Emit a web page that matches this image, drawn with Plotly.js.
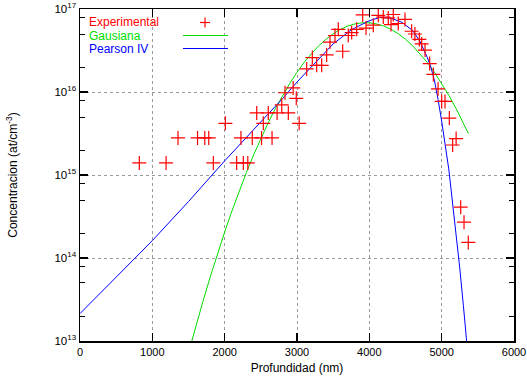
<!DOCTYPE html>
<html><head><meta charset="utf-8">
<script src="https://cdn.plot.ly/plotly-3.0.1.min.js"></script>
<style>html,body{margin:0;padding:0;background:#fff}#plot{width:527px;height:379px}</style>
</head><body><div id="plot"></div>
<script>
// Experimental points
const depthExp = [820,1190,1355,1625,1725,1780,1843,2010,2166,2225,2258,2320,2382,2443,2510,2534,2603,2655,2725,2789,2834,2880,2947,2990,3030,3134,3212,3272,3341,3410,3456,3525,3571,3632,3709,3756,3825,3908,3954,4055,4124,4193,4262,4300,4331,4400,4493,4585,4630,4691,4724,4770,4834,4885,4950,5000,5046,5106,5152,5200,5263,5309,5368];
const concExp = [1.4e15,1.4e15,2.8e15,2.8e15,2.8e15,2.8e15,1.4e15,4.2e15,1.4e15,2.8e15,1.4e15,1.4e15,2.8e15,5.6e15,2.8e15,4.2e15,5.6e15,2.8e15,5.6e15,7.0e15,9.8e15,5.6e15,1.12e16,8.4e15,4.2e15,1.9e16,2.6e16,2.1e16,2.1e16,2.8e16,4.0e16,4.8e16,5.7e16,3.1e16,4.8e16,5.2e16,5.7e16,8.5e16,5.9e16,6.4e16,8.4e16,8.0e16,7.8e16,6.5e16,8.6e16,6.7e16,7.5e16,5.4e16,5.0e16,4.3e16,3.8e16,3.2e16,2.2e16,1.63e16,1.09e16,7.7e15,7.7e15,4.85e15,2.3e15,2.75e15,4.1e14,2.7e14,1.54e14];
// Gaussian fit
const depthGauss = [1540,1600,1700,1800,1900,2000,2100,2200,2300,2400,2500,2600,2700,2800,2900,3000,3100,3200,3300,3400,3500,3600,3700,3800,3900,4000,4100,4200,4300,4400,4500,4600,4700,4800,4900,5000,5100,5200,5300,5370];
const concGauss = [9.6e12,1.49e13,3.01e13,5.89e13,1.12e14,2.06e14,3.68e14,6.38e14,1.07e15,1.75e15,2.77e15,4.24e15,6.31e15,9.10e15,1.27e16,1.73e16,2.28e16,2.90e16,3.60e16,4.32e16,5.04e16,5.69e16,6.24e16,6.62e16,6.82e16,6.82e16,6.62e16,6.24e16,5.69e16,5.04e16,4.32e16,3.60e16,2.90e16,2.28e16,1.73e16,1.27e16,9.10e15,6.31e15,4.24e15,3.16e15];
// Pearson IV fit
const depthPearson = [0,500,1000,1500,2000,2500,2800,3000,3250,3500,3750,4000,4150,4300,4450,4600,4700,4800,4850,4900,4950,5000,5100,5200,5250,5300,5350];
const concPearson = [2.14e13,5.89e13,1.62e14,4.79e14,1.48e15,4.37e15,8.32e15,1.32e16,2.24e16,3.80e16,5.62e16,7.24e16,7.94e16,7.76e16,6.92e16,5.50e16,4.07e16,2.63e16,2.00e16,1.38e16,8.13e15,4.47e15,1.15e15,2.00e14,7.59e13,2.69e13,8.91e12];
const xTicks = [0,1000,2000,3000,4000,5000,6000];
const yTicks = [1e13,1e14,1e15,1e16,1e17];
const yTickText = ['10<sup>13</sup>','10<sup>14</sup>','10<sup>15</sup>','10<sup>16</sup>','10<sup>17</sup>'];
const yMinor = [2e13,5e13,8e13,2e14,5e14,8e14,2e15,5e15,8e15,2e16,5e16,8e16];
const legendNames = ['Experimental','Gausiana','Pearson IV'];

const RED = '#ff0000', GREEN = '#00dd00', BLUE = '#0000ff';
const FONT = 'Liberation Sans, Arial, sans-serif';

const traces = [
  {x: depthGauss, y: concGauss, type: 'scatter', mode: 'lines', line: {color: GREEN, width: 1}, name: legendNames[1]},
  {x: depthPearson, y: concPearson, type: 'scatter', mode: 'lines', line: {color: BLUE, width: 1}, name: legendNames[2]},
  {x: depthExp, y: concExp, type: 'scatter', mode: 'markers', name: legendNames[0],
   marker: {symbol: 'cross-thin-open', size: 10, color: RED, line: {color: RED, width: 1.2}}, cliponaxis: true}
];

// legend drawn gnuplot-style (text then sample), paper coords
const T = 9, B = 341, L = 80, R = 514;
const lx = (px) => (px - L) / (R - L);
const ly = (py) => (B - py) / (B - T);
const rows = [22.5, 35.5, 48.5];
const cols = [RED, GREEN, BLUE];
const annotations = legendNames.map((n, i) => ({
  xref: 'paper', yref: 'paper', x: lx(87), y: ly(rows[i]), xanchor: 'left', yanchor: 'middle',
  text: n, showarrow: false, font: {family: FONT, size: 12, color: cols[i]}
}));
const shapes = [
  {type: 'line', xref: 'paper', yref: 'paper', x0: lx(200), x1: lx(210), y0: ly(rows[0]), y1: ly(rows[0]), line: {color: RED, width: 1.2}},
  {type: 'line', xref: 'paper', yref: 'paper', x0: lx(205), x1: lx(205), y0: ly(rows[0]-5), y1: ly(rows[0]+5), line: {color: RED, width: 1.2}},
  {type: 'line', xref: 'paper', yref: 'paper', x0: lx(183), x1: lx(228), y0: ly(rows[1]), y1: ly(rows[1]), line: {color: GREEN, width: 1}},
  {type: 'line', xref: 'paper', yref: 'paper', x0: lx(183), x1: lx(228), y0: ly(rows[2]), y1: ly(rows[2]), line: {color: BLUE, width: 1}}
];

const layout = {
  width: 527, height: 379,
  margin: {l: L, r: 527 - R, t: T, b: 379 - B},
  paper_bgcolor: '#fff', plot_bgcolor: '#fff',
  showlegend: false,
  font: {family: FONT, size: 11, color: '#000'},
  xaxis: {
    range: [0, 6000], tickmode: 'array', tickvals: xTicks, ticktext: xTicks.map(String),
    ticks: 'inside', ticklen: 8, tickwidth: 1.5, tickcolor: '#000',
    showline: true, linecolor: '#000', linewidth: 1.5, mirror: 'ticks',
    showgrid: true, gridcolor: '#999', griddash: 'dot', gridwidth: 1,
    zeroline: false, ticklabeloverflow: 'allow',
    tickfont: {family: FONT, size: 11},
    title: {text: 'Profundidad (nm)', font: {family: FONT, size: 12}, standoff: 7}
  },
  yaxis: {
    type: 'log', range: [13, 17.0005], tickmode: 'array', tickvals: yTicks, ticktext: yTickText,
    ticks: 'inside', ticklen: 8, tickwidth: 1.5, tickcolor: '#000',
    showline: true, linecolor: '#000', linewidth: 1.5, mirror: 'ticks',
    showgrid: true, gridcolor: '#999', griddash: 'dot', gridwidth: 1,
    zeroline: false, ticklabeloverflow: 'allow',
    tickfont: {family: FONT, size: 11.5},
    minor: {tickmode: 'array', tickvals: yMinor, ticks: 'inside', ticklen: 5, tickwidth: 1, tickcolor: '#000', showgrid: false},
    title: {text: 'Concentracion (at/cm<sup>-3</sup>)', font: {family: FONT, size: 12}, standoff: 34}
  },
  annotations: annotations,
  shapes: shapes
};

Plotly.newPlot('plot', traces, layout, {staticPlot: true, displayModeBar: false});
</script>
</body></html>
